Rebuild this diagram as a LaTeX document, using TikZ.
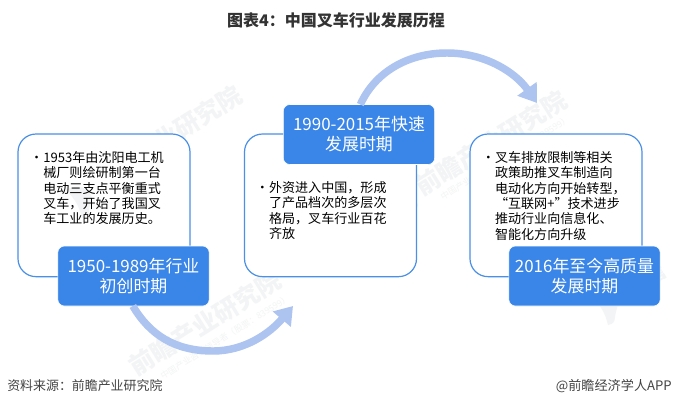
\documentclass[tikz,border=0pt]{standalone}
\usepackage{fontspec}
\setmainfont{Noto Sans CJK SC}
\usetikzlibrary{arrows.meta}
\definecolor{boxline}{HTML}{4A90E6}
\definecolor{boxfill}{HTML}{3A85E8}
\definecolor{arcblue}{HTML}{ADC3F0}
\definecolor{wmark}{HTML}{F3F4F5}
\definecolor{titlec}{HTML}{333333}
\definecolor{bodyc}{HTML}{000000}
\definecolor{footc}{HTML}{444444}
\tikzset{
  x=0.75pt,y=-0.75pt,
  stagebox/.style={draw=boxline,line width=0.9pt,fill=white,rounded corners=13.5pt,minimum width=129pt,minimum height=107pt,inner sep=0pt,outer sep=0pt,anchor=north west},
  phase/.style={draw=white,line width=0.4pt,fill=boxfill,text=white,rounded corners=5pt,minimum width=113.5pt,minimum height=45pt,inner sep=0pt,outer sep=0pt,align=center,font=\fontsize{12.7}{15}\selectfont},
  body/.style={inner sep=0pt,outer sep=0pt,anchor=north west,align=left,text=bodyc,font=\fontsize{9.8}{11.5}\selectfont},
  flow/.style={draw=arcblue,line width=5.6pt,-{Triangle[length=13pt,width=17pt,fill=arcblue]}},
  wm/.style={text=wmark,rotate=32,inner sep=0pt,font=\fontsize{18.5}{18.5}\bfseries\selectfont},
  wmsub/.style={text=wmark,rotate=32,inner sep=0pt,font=\fontsize{6.5}{7}\selectfont},
  wmlogo/.style={fill=wmark,draw=none}
}
\begin{document}
\begin{tikzpicture}
\useasboundingbox (0,0) rectangle (673,407);
\fill[white] (0,0) rectangle (673,407);
% watermarks
\node[wm] (w1) at (166,138) {前瞻产业研究院};
\node[wm] (w2) at (205,323) {前瞻产业研究院};
\node[wm] (w3) at (491,143) {前瞻产业研究院};
\node[wm,anchor=west] (w4) at (620,294) {前瞻};
\node[wmsub] (w5) at (225,337) {中国产业咨询领导者（股票：839599）};
\node[wmsub] (w6) at (505,158) {中国产业咨询领导者（股票：839599）};
\fill[wmlogo] (392,197) .. controls (405,190) and (415,195) .. (418,205) .. controls (412,222) and (418,222) .. (408,225) .. controls (405,212) and (400,205) .. (392,197) -- cycle;
\fill[wmlogo] (592,297) .. controls (605,290) and (615,295) .. (618,305) .. controls (612,322) and (618,322) .. (608,325) .. controls (605,312) and (600,305) .. (592,297) -- cycle;
% stage boxes
\node[stagebox] (a) at (18,134) {};
\node[stagebox] (b) at (244.5,134) {};
\node[stagebox] (c) at (470,134) {};
\fill[wmlogo] (66,190) .. controls (79,183) and (89,188) .. (92,198) .. controls (86,215) and (92,215) .. (82,218) .. controls (79,205) and (74,198) .. (66,190) -- cycle;
% texts
\node[body] (ta) at (43.3,151.5) {\llap{•}1953年由沈阳电工机\\械厂则绘研制第一台\\电动三支点平衡重式\\叉车，开始了我国叉\\车工业的发展历史。};
\node[body] (tb) at (269,181.5) {\llap{•}外资进入中国，形成\\了产品档次的多层次\\格局，叉车行业百花\\齐放};
\node[body] (tc) at (495,151.5) {\llap{•}叉车排放限制等相关\\政策助推叉车制造向\\电动化方向开始转型，\\“互联网+”技术进步\\推动行业向信息化、\\智能化方向升级};
% phase labels
\node[phase] (pa) at (133.5,276) {1950-1989年行业\\初创时期};
\node[phase] (pb) at (359,134.5) {1990-2015年快速\\发展时期};
\node[phase] (pc) at (584.5,276) {2016年至今高质量\\发展时期};
% connectors
\coordinate (ea) at (293,306);
\coordinate (eb) at (537,103);
\draw[flow] ([xshift=-0.5pt]pa.south) .. controls (150,335) and (175,351) .. (213,351) .. controls (245,351) and (270,333) .. (ea);
\draw[flow] ([xshift=1pt]pb.north) .. controls (375,72) and (408,53) .. (447,53) .. controls (485,53) and (515,72) .. (eb);
% title and footer
\node[inner sep=0pt,text=titlec,font=\fontsize{12}{14}\bfseries\selectfont] (title) at (336,20) {图表4：中国叉车行业发展历程};
\node[inner sep=0pt,anchor=west,text=footc,font=\fontsize{9.7}{12}\selectfont] (src) at (7,386) {资料来源：前瞻产业研究院};
\node[inner sep=0pt,anchor=east,text=footc,font=\fontsize{9.85}{12}\selectfont] (app) at (672,386) {@前瞻经济学人APP};
\end{tikzpicture}
\end{document}
